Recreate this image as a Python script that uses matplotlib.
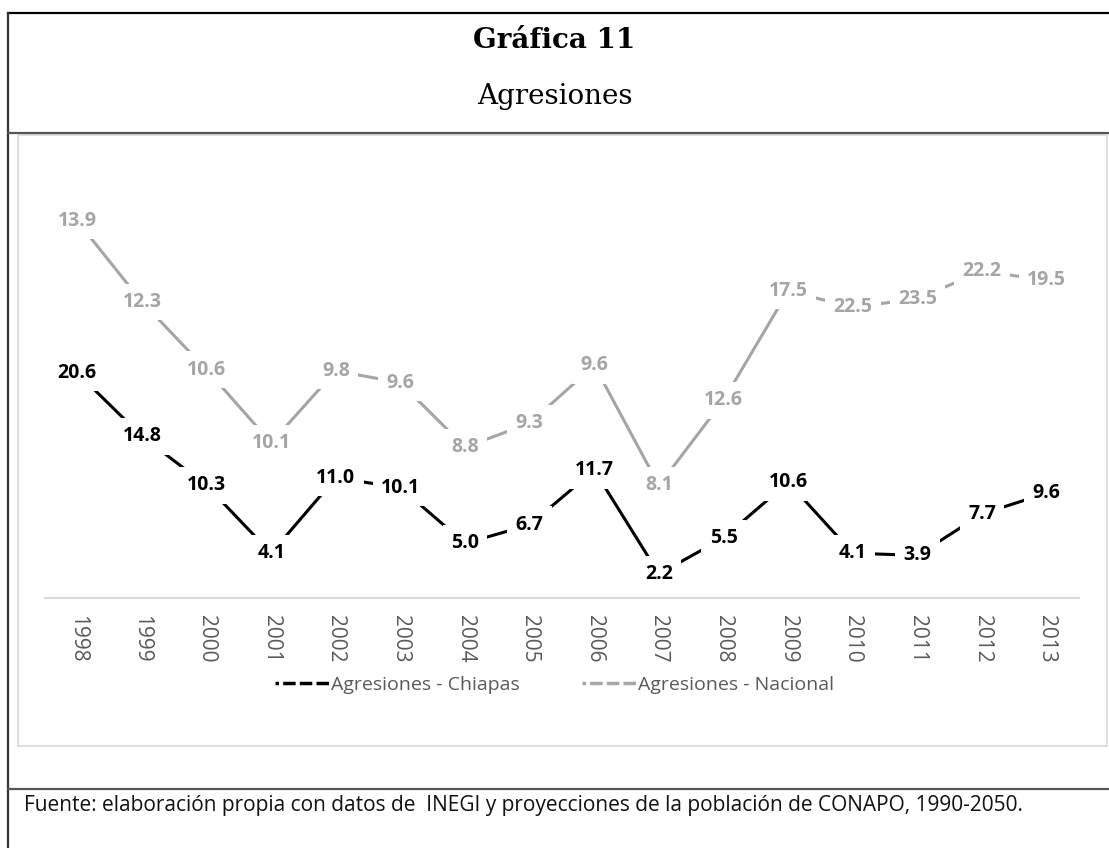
import matplotlib
matplotlib.use("Agg")
import matplotlib.pyplot as plt
from matplotlib.lines import Line2D
from matplotlib.patches import Rectangle

# data
years = ["1998", "1999", "2000", "2001", "2002", "2003", "2004", "2005",
         "2006", "2007", "2008", "2009", "2010", "2011", "2012", "2013"]
chiapas = [20.6, 14.8, 10.3, 4.1, 11.0, 10.1, 5.0, 6.7,
           11.7, 2.2, 5.5, 10.6, 4.1, 3.9, 7.7, 9.6]
nacional = [13.9, 12.3, 10.6, 10.1, 9.8, 9.6, 8.8, 9.3,
            9.6, 8.1, 12.6, 17.5, 22.5, 23.5, 22.2, 19.5]
series_names = ["Agresiones - Chiapas", "Agresiones - Nacional"]

W, H = 1109, 848
fig = plt.figure(figsize=(W / 100, H / 100), dpi=100)
plt.rcParams['font.family'] = ['Open Sans', 'DejaVu Sans']


def fy(y):
    return 1 - y / H


# frame lines around the figure (like a table in a document)
fig.add_artist(Line2D([8 / W, 1], [fy(13), fy(13)], color='black', lw=1.6))
fig.add_artist(Line2D([8 / W, 8 / W], [fy(13), 0], color='#333333', lw=1.6))
fig.add_artist(Line2D([8 / W, 1], [fy(133), fy(133)], color='#555555', lw=1.6))
fig.add_artist(Line2D([8 / W, 1], [fy(789), fy(789)], color='#555555', lw=1.6))
fig.add_artist(Rectangle((18 / W, fy(746)), (1107 - 18) / W, (746 - 135) / H,
                         fill=False, edgecolor='#d9d9d9', lw=1.2))

fig.text(0.5, fy(40), "Gráfica 11", ha='center', va='center',
         fontsize=20, fontweight='bold', family='DejaVu Serif')
fig.text(0.5, fy(97), "Agresiones", ha='center', va='center',
         fontsize=20, family='DejaVu Serif')
fig.text(24 / W, fy(805), "Fuente: elaboración propia con datos de  INEGI y proyecciones "
         "de la población de CONAPO, 1990-2050.", ha='left', va='center',
         fontsize=15, color='#111111')

# stacked line chart (second series drawn on top of the first)
ax = fig.add_axes([45 / W, fy(598), 1034 / W, 437 / H])
x = list(range(len(years)))
stacked = [c + n for c, n in zip(chiapas, nacional)]

ax.plot(x, chiapas, color='black', lw=2.2)
ax.plot(x, stacked, color='#a5a5a5', lw=2.2)

for i in x:
    ax.text(i, chiapas[i], f"{chiapas[i]:.1f}", ha='center', va='center',
            fontsize=14, fontweight='bold', color='black', zorder=5,
            bbox=dict(facecolor='white', edgecolor='none', pad=6))
    ax.text(i, stacked[i], f"{nacional[i]:.1f}", ha='center', va='center',
            fontsize=14, fontweight='bold', color='#a5a5a5', zorder=5,
            bbox=dict(facecolor='white', edgecolor='none', pad=6))

ax.set_xlim(-0.5, len(years) - 0.5)
ax.set_ylim(0, 40)
ax.set_xticks(x)
ax.set_xticklabels(years, rotation=-90, fontsize=15, color='#595959')
ax.tick_params(axis='x', length=0, pad=12)
ax.set_yticks([])
for s in ['top', 'right', 'left']:
    ax.spines[s].set_visible(False)
ax.spines['bottom'].set_color('#d9d9d9')
ax.spines['bottom'].set_linewidth(1.5)

# Excel-style legend keys: a short dash followed by a longer one
handles = [Line2D([], [], color=c, lw=2.5, dashes=(1.0, 1.2, 2.6, 0))
           for c in ['black', '#a5a5a5']]
ax.legend(handles, series_names, loc='center', bbox_to_anchor=(0.5, fy(685)),
          bbox_transform=fig.transFigure, ncol=2, frameon=False,
          prop={'size': 14}, handlelength=2.8,
          columnspacing=3.2, handletextpad=0.1, labelcolor='#595959')

fig.savefig("out.png", dpi=100)
